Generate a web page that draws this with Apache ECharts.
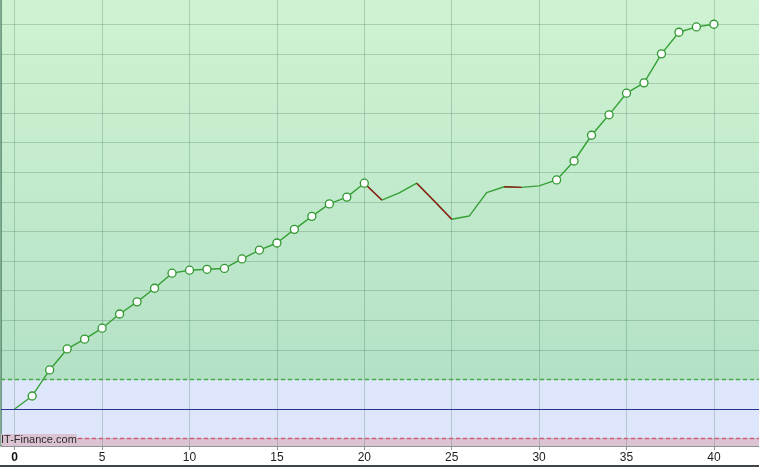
<!DOCTYPE html>
<html>
<head>
<meta charset="utf-8">
<script src="https://cdn.jsdelivr.net/npm/echarts@6/dist/echarts.min.js"></script>
<style>
html,body{margin:0;padding:0;background:#fff;}
#c{width:759px;height:467px;}
</style>
</head>
<body>
<div id="c"></div>
<script>
// ---- data ----
const xValues = [0,1,2,3,4,5,6,7,8,9,10,11,12,13,14,15,16,17,18,19,20,21,22,23,24,25,26,27,28,29,30,31,32,33,34,35,36,37,38,39,40];
const values = [0, 4.4, 13.2, 20.3, 23.6, 27.3, 32.1, 36.2, 40.8, 45.9, 46.9, 47.2, 47.5, 50.7, 53.7, 56.1, 60.7, 65.1, 69.3, 71.6, 76.3, 70.6, 73.0, 76.3, 70.3, 64.1, 65.2, 73.1, 75.1, 74.9, 75.4, 77.4, 83.8, 92.5, 99.4, 106.7, 110.2, 120.0, 127.3, 129.1, 130.0];
const markedRanges = [[1, 20], [31, 40]];
const xTicks = [0, 5, 10, 15, 20, 25, 30, 35, 40];
const yGrid = [-10, 0, 10, 20, 30, 40, 50, 60, 70, 80, 90, 100, 110, 120, 130];
const upperLimit = 10;
const lowerLimit = -10;
const baseLine = 0;
const xMin = -0.784, xMax = 42.58;
const yMin = -12.5, yMax = 138.2;
const watermark = 'IT-Finance.com';

// ---- derived series data ----
const linePts = xValues.map((x, i) => [x, values[i]]);
const n = values.length;
const redPts = xValues.map((x, i) => {
  const down = (i > 0 && values[i] < values[i - 1]) || (i < n - 1 && values[i + 1] < values[i]);
  return down ? [x, values[i]] : [x, null];
});
const markerPts = linePts.filter((p, i) => markedRanges.some(r => i >= r[0] && i <= r[1]));

const pink = '#dcc3d3';
const gridColor = 'rgba(30,80,55,0.22)';
const chart = echarts.init(document.getElementById('c'), null, {renderer: 'canvas'});
chart.setOption({
  animation: false,
  backgroundColor: '#ffffff',
  grid: {left: 1, right: 0, top: 0, bottom: 21, containLabel: false},
  xAxis: {
    type: 'value', min: xMin, max: xMax, z: 3,
    axisLine: {show: true, onZero: false, lineStyle: {color: '#8f9498', width: 1}},
    axisTick: {show: true, length: 4, customValues: xTicks, lineStyle: {color: '#8f9498'}},
    axisLabel: {
      show: true, customValues: xTicks, margin: 6,
      fontFamily: 'Liberation Sans, Arial, sans-serif', fontSize: 12, color: '#222',
      formatter: v => v === 0 ? '{b|0}' : String(v),
      rich: {b: {fontWeight: 'bold', fontSize: 12, color: '#111', fontFamily: 'Liberation Sans, Arial, sans-serif'}}
    },
    splitLine: {show: true, lineStyle: {color: gridColor, width: 1}}
  },
  yAxis: {
    type: 'value', min: yMin, max: yMax, z: 3,
    axisLine: {show: true, onZero: false, lineStyle: {color: 'rgba(20,90,50,0.7)', width: 1.5}},
    axisTick: {show: false, customValues: yGrid},
    axisLabel: {show: false, customValues: yGrid},
    splitLine: {show: true, lineStyle: {color: gridColor, width: 1}}
  },
  graphic: [
    {type: 'text', left: 1, top: 434, z: 10,
      style: {text: watermark, fill: '#2a2a2a', font: '11px "Liberation Sans", Arial, sans-serif',
        backgroundColor: pink}},
    {type: 'rect', left: 0, top: 465, z: 10, shape: {width: 759, height: 2}, style: {fill: '#3f4448'}}
  ],
  series: [
    {
      type: 'line', data: [], z: 1, silent: true,
      markArea: {
        silent: true,
        data: [
          [{yAxis: upperLimit, itemStyle: {opacity: 1, color: {type: 'linear', x: 0, y: 0, x2: 0, y2: 1,
              colorStops: [{offset: 0, color: '#cff3d2'}, {offset: 1, color: '#b4e1c6'}], global: false}}},
           {yAxis: yMax}],
          [{yAxis: lowerLimit, itemStyle: {opacity: 1, color: '#dde6fb'}}, {yAxis: upperLimit}],
          [{yAxis: yMin, itemStyle: {opacity: 1, color: pink}}, {yAxis: lowerLimit}]
        ]
      }
    },
    {
      type: 'line', data: [], z: 4, silent: true,
      markLine: {
        silent: true, symbol: 'none', label: {show: false},
        data: [
          {yAxis: upperLimit, lineStyle: {color: '#3fae3f', type: [4, 3], width: 1.3, opacity: 1}},
          {yAxis: baseLine, lineStyle: {color: '#27338f', type: 'solid', width: 1.1, opacity: 1}},
          {yAxis: lowerLimit, lineStyle: {color: '#d65a78', type: [4, 3], width: 1.3, opacity: 1}}
        ]
      }
    },
    {
      type: 'line', data: linePts, z: 5, showSymbol: false, symbol: 'none',
      lineStyle: {color: '#35a035', width: 1.4}
    },
    {
      type: 'line', data: redPts, z: 6, showSymbol: false, symbol: 'none', connectNulls: false,
      lineStyle: {color: '#9a1a1a', width: 1.4}
    },
    {
      type: 'scatter', data: markerPts, z: 7, symbol: 'circle', symbolSize: 8,
      itemStyle: {color: '#ffffff', borderColor: '#2f972f', borderWidth: 1.3, opacity: 1}
    }
  ]
});
</script>
</body>
</html>
